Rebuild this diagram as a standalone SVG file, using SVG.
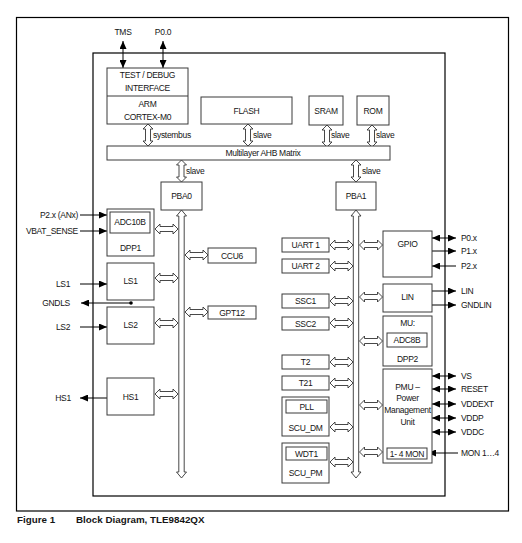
<svg xmlns="http://www.w3.org/2000/svg" xmlns:xlink="http://www.w3.org/1999/xlink" width="522" height="543" viewBox="0 0 522 543">
<style>
text{font-family:"Liberation Sans",Arial,sans-serif;font-size:8.5px;fill:#151515;letter-spacing:-0.3px}
.c{text-anchor:middle}
.e{text-anchor:end}
.box{fill:#fff;stroke:#3a3a3a;stroke-width:1}
.frame{fill:none;stroke:#000;stroke-width:1.2}
.hol{fill:#fff;stroke:#333;stroke-width:0.9;stroke-linejoin:miter}
.sig{stroke:#000;stroke-width:1;fill:none}
.cap{font-weight:bold;font-size:9.8px;letter-spacing:0}
</style>
<defs>
<marker id="ah" markerUnits="userSpaceOnUse" markerWidth="8" markerHeight="7" refX="8" refY="3.5" orient="auto-start-reverse">
<path d="M0,0 L8,3.5 L0,7 z" fill="#000"/>
</marker>
<path id="hh" class="hol" d="M0,0 L5,-5 L5,-2.5 L18,-2.5 L18,-5 L23,0 L18,5 L18,2.5 L5,2.5 L5,5 Z"/>
<path id="vv" class="hol" d="M0,0 L5,5 L2.5,5 L2.5,17 L5,17 L0,22 L-5,17 L-2.5,17 L-2.5,5 L-5,5 Z"/>
</defs>
<rect width="522" height="543" fill="#fff"/>
<rect class="frame" x="16.5" y="17.5" width="492" height="493.5"/>
<rect class="frame" x="93" y="53" width="352" height="443"/>

<g id="connectors">
<line class="sig" x1="123" y1="41" x2="123" y2="68" marker-start="url(#ah)" marker-end="url(#ah)"/>
<line class="sig" x1="163" y1="41" x2="163" y2="68" marker-start="url(#ah)" marker-end="url(#ah)"/>
<use xlink:href="#vv" x="148" y="124"/>
<use xlink:href="#vv" x="248" y="124"/>
<use xlink:href="#vv" x="327" y="125"/>
<use xlink:href="#vv" x="372" y="125"/>
<use xlink:href="#vv" x="181.5" y="160"/>
<use xlink:href="#vv" x="356" y="160"/>
<path class="hol" d="M181.5,210 L186.5,216 L184.2,216 L184.2,472 L186.5,472 L181.5,478 L176.5,472 L178.8,472 L178.8,216 L176.5,216 Z"/>
<path class="hol" d="M356,210 L361,216 L358.7,216 L358.7,472 L361,472 L356,478 L351,472 L353.3,472 L353.3,216 L351,216 Z"/>
<line class="sig" x1="80" y1="215" x2="107" y2="215" marker-end="url(#ah)"/>
<line class="sig" x1="80" y1="231" x2="107" y2="231" marker-end="url(#ah)"/>
<line class="sig" x1="80" y1="284" x2="107" y2="284" marker-end="url(#ah)"/>
<line class="sig" x1="131" y1="303" x2="81" y2="303" marker-end="url(#ah)"/>
<circle cx="131" cy="303" r="1.8" fill="#000"/>
<line class="sig" x1="80" y1="327" x2="107" y2="327" marker-end="url(#ah)"/>
<line class="sig" x1="107" y1="398" x2="80" y2="398" marker-end="url(#ah)"/>
<use xlink:href="#hh" x="155" y="229"/>
<use xlink:href="#hh" x="155" y="278"/>
<use xlink:href="#hh" x="155" y="323"/>
<use xlink:href="#hh" x="155" y="394"/>
<use xlink:href="#hh" x="185" y="255"/>
<use xlink:href="#hh" x="185" y="312"/>
<use xlink:href="#hh" x="330" y="245"/>
<use xlink:href="#hh" x="330" y="266"/>
<use xlink:href="#hh" x="330" y="301"/>
<use xlink:href="#hh" x="330" y="323"/>
<use xlink:href="#hh" x="330" y="362"/>
<use xlink:href="#hh" x="330" y="383"/>
<use xlink:href="#hh" x="330" y="427"/>
<use xlink:href="#hh" x="330" y="462"/>
<use xlink:href="#hh" x="359.5" y="245"/>
<use xlink:href="#hh" x="359.5" y="297"/>
<use xlink:href="#hh" x="359.5" y="341"/>
<use xlink:href="#hh" x="359.5" y="405"/>
<use xlink:href="#hh" x="359.5" y="452"/>
<line class="sig" x1="432" y1="238" x2="456" y2="238" marker-start="url(#ah)" marker-end="url(#ah)"/>
<line class="sig" x1="432" y1="251" x2="456" y2="251" marker-end="url(#ah)"/>
<line class="sig" x1="456" y1="266" x2="432" y2="266" marker-end="url(#ah)"/>
<line class="sig" x1="432" y1="291" x2="456" y2="291" marker-end="url(#ah)"/>
<line class="sig" x1="432" y1="305" x2="456" y2="305" marker-end="url(#ah)"/>
<line class="sig" x1="432" y1="376" x2="456" y2="376" marker-start="url(#ah)" marker-end="url(#ah)"/>
<line class="sig" x1="432" y1="389" x2="456" y2="389" marker-start="url(#ah)" marker-end="url(#ah)"/>
<line class="sig" x1="432" y1="404" x2="456" y2="404" marker-start="url(#ah)" marker-end="url(#ah)"/>
<line class="sig" x1="432" y1="418" x2="456" y2="418" marker-start="url(#ah)" marker-end="url(#ah)"/>
<line class="sig" x1="432" y1="432" x2="456" y2="432" marker-start="url(#ah)" marker-end="url(#ah)"/>
<line class="sig" x1="458" y1="453" x2="428" y2="453" marker-end="url(#ah)"/>
</g>

<g id="pins">
<text class="c" x="123" y="35">TMS</text>
<text class="c" x="163" y="35">P0.0</text>
<text class="e" x="78" y="218">P2.x (ANx)</text>
<text class="e" x="78" y="234">VBAT_SENSE</text>
<text class="c" x="63" y="287">LS1</text>
<text class="e" x="70" y="306">GNDLS</text>
<text class="c" x="63" y="330">LS2</text>
<text class="c" x="63" y="401">HS1</text>
<text x="461" y="241">P0.x</text>
<text x="461" y="254">P1.x</text>
<text x="461" y="269">P2.x</text>
<text x="461" y="294">LIN</text>
<text x="461" y="308">GNDLIN</text>
<text x="461" y="379">VS</text>
<text x="461" y="392">RESET</text>
<text x="461" y="407">VDDEXT</text>
<text x="461" y="421">VDDP</text>
<text x="461" y="435">VDDC</text>
<text x="461" y="456">MON 1…4</text>
</g>

<g id="cpu">
<rect class="box" x="107" y="68" width="81" height="56"/>
<line x1="107" y1="96" x2="188" y2="96" stroke="#3a3a3a" stroke-width="1"/>
<text class="c" x="147.5" y="78">TEST / DEBUG</text>
<text class="c" x="147.5" y="91">INTERFACE</text>
<text class="c" x="147.5" y="107">ARM</text>
<text class="c" x="147.5" y="120">CORTEX-M0</text>
</g>
<g id="flash"><rect class="box" x="201" y="97" width="91" height="27"/><text class="c" x="246.5" y="114">FLASH</text></g>
<g id="sram"><rect class="box" x="309" y="96" width="34" height="29"/><text class="c" x="326" y="114">SRAM</text></g>
<g id="rom"><rect class="box" x="357" y="96" width="32" height="29"/><text class="c" x="373" y="114">ROM</text></g>
<g id="ahb"><rect class="box" x="107" y="146" width="283" height="14"/><text class="c" x="263" y="156">Multilayer AHB Matrix</text></g>
<g id="buslabels">
<text x="153" y="138">systembus</text>
<text x="253" y="138">slave</text>
<text x="331" y="138">slave</text>
<text x="376" y="138">slave</text>
<text x="186" y="174">slave</text>
<text x="362" y="174">slave</text>
</g>
<g id="pba0"><rect class="box" x="161" y="182" width="41" height="28"/><text class="c" x="181.5" y="199">PBA0</text></g>
<g id="pba1"><rect class="box" x="336" y="182" width="40" height="28"/><text class="c" x="356" y="199">PBA1</text></g>

<g id="dpp1">
<rect class="box" x="107" y="209" width="47" height="47"/>
<rect class="box" x="110" y="212" width="40" height="21"/>
<text class="c" x="130" y="224.5">ADC10B</text>
<text class="c" x="130.5" y="251">DPP1</text>
</g>
<g id="ls1"><rect class="box" x="107" y="263" width="47" height="37"/><text class="c" x="130.5" y="284">LS1</text></g>
<g id="ls2"><rect class="box" x="107" y="307" width="47" height="37"/><text class="c" x="130.5" y="328">LS2</text></g>
<g id="hs1"><rect class="box" x="107" y="378" width="47" height="37"/><text class="c" x="130.5" y="400">HS1</text></g>
<g id="ccu6"><rect class="box" x="208" y="248" width="48" height="15"/><text class="c" x="232" y="258.5">CCU6</text></g>
<g id="gpt12"><rect class="box" x="208" y="306" width="48" height="13"/><text class="c" x="232" y="315.5">GPT12</text></g>

<g id="uart1"><rect class="box" x="282" y="238" width="47" height="14"/><text class="c" x="305.5" y="248">UART 1</text></g>
<g id="uart2"><rect class="box" x="282" y="259" width="47" height="14"/><text class="c" x="305.5" y="269">UART 2</text></g>
<g id="ssc1"><rect class="box" x="282" y="294" width="47" height="14"/><text class="c" x="305.5" y="304">SSC1</text></g>
<g id="ssc2"><rect class="box" x="282" y="317" width="47" height="13"/><text class="c" x="305.5" y="326.5">SSC2</text></g>
<g id="t2"><rect class="box" x="282" y="355" width="47" height="14"/><text class="c" x="305.5" y="365">T2</text></g>
<g id="t21"><rect class="box" x="282" y="376" width="47" height="14"/><text class="c" x="305.5" y="386">T21</text></g>
<g id="scu_dm">
<rect class="box" x="282" y="397" width="47" height="39"/>
<rect class="box" x="286" y="400" width="41" height="13"/>
<text class="c" x="306.5" y="410">PLL</text>
<text class="c" x="305.5" y="431">SCU_DM</text>
</g>
<g id="scu_pm">
<rect class="box" x="282" y="443" width="47" height="40"/>
<rect class="box" x="286" y="447" width="41" height="13"/>
<text class="c" x="306.5" y="457">WDT1</text>
<text class="c" x="305.5" y="476">SCU_PM</text>
</g>

<g id="gpio"><rect class="box" x="383" y="231" width="49" height="46"/><text class="c" x="407.5" y="247">GPIO</text></g>
<g id="lin"><rect class="box" x="383" y="284" width="49" height="28"/><text class="c" x="407.5" y="300">LIN</text></g>
<g id="dpp2">
<rect class="box" x="383" y="316" width="49" height="50"/>
<text class="c" x="407.5" y="326">MU:</text>
<rect class="box" x="387" y="333" width="40" height="14"/>
<text class="c" x="407" y="343">ADC8B</text>
<text class="c" x="407.5" y="362">DPP2</text>
</g>
<g id="pmu">
<rect class="box" x="383" y="369" width="49" height="94"/>
<text class="c" x="407.5" y="390">PMU –</text>
<text class="c" x="407.5" y="401">Power</text>
<text class="c" x="407.5" y="413">Management</text>
<text class="c" x="407.5" y="425">Unit</text>
<rect class="box" x="387" y="448" width="40" height="11"/>
<text class="c" x="407" y="456.5">1- 4 MON</text>
</g>

<g id="caption">
<text class="cap" x="17" y="523">Figure 1</text>
<text class="cap" x="76" y="523">Block Diagram, TLE9842QX</text>
</g>
</svg>
